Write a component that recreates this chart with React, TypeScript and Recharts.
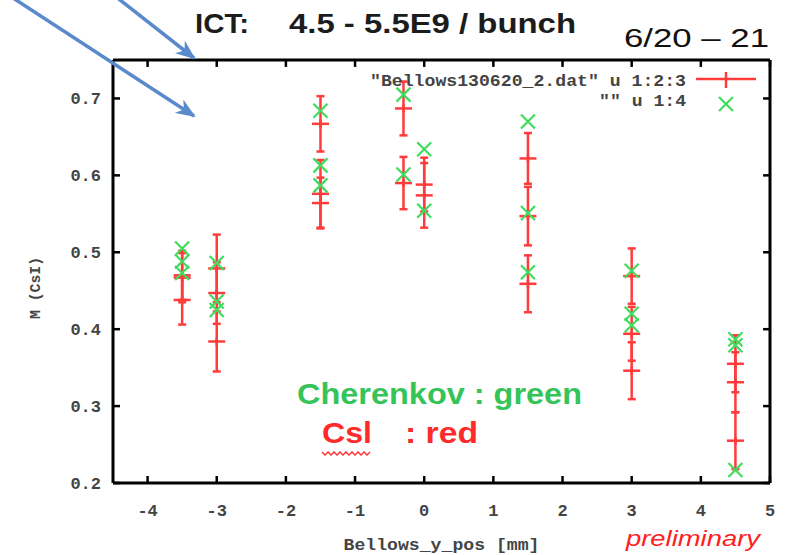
import React from "react";
import { ErrorBar, ReferenceLine, Scatter, ScatterChart, XAxis, YAxis } from "recharts";

// one entry per measurement row: x position, CsI (with error), Cherenkov
const xPositions = [
  -3.5, -3.5, -3.5, -3, -3, -3, -1.5, -1.5, -1.5, -0.3, -0.3, 0, 0, 1.5, 1.5, 1.5, 3, 3, 3, 4.5, 4.5, 4.5
];
const csiValues = [
  0.47, 0.467, 0.438, 0.479, 0.447, 0.384, 0.667, 0.576, 0.564, 0.687, 0.59, 0.588, 0.574, 0.622, 0.547,
  0.459, 0.469, 0.394, 0.346, 0.355, 0.331, 0.255
];
const csiErrors = [
  0.032, 0.032, 0.032, 0.044, 0.04, 0.039, 0.036, 0.044, 0.033, 0.035, 0.034, 0.035, 0.042, 0.033, 0.038,
  0.037, 0.036, 0.035, 0.037, 0.037, 0.039, 0.037
];
const cherenkovValues = [
  0.505, 0.488, 0.473, 0.486, 0.436, 0.425, 0.684, 0.613, 0.587, 0.705, 0.601, 0.634, 0.554, 0.67, 0.551,
  0.474, 0.476, 0.42, 0.405, 0.387, 0.379, 0.217
];
const xTicks = [-4, -3, -2, -1, 0, 1, 2, 3, 4, 5];
const yTicks = [0.2, 0.3, 0.4, 0.5, 0.6, 0.7];

const X_MIN = -4.5;
const X_MAX = 5;
const Y_MIN = 0.2;
const Y_MAX = 0.75;
// inward tick length on the mirrored (top/right) borders, in data units (~7px)
const TOP_TICK = 0.009;
const RIGHT_TICK = 0.1;

const csiPoints = xPositions.map((x, i) => ({ x, y: csiValues[i], err: csiErrors[i] }));
const cherenkovPoints = xPositions.map((x, i) => ({ x, y: cherenkovValues[i] }));

const RED = "#ff3b3b";
const GREEN = "#3fdc5e";
const FRAME = "#000";
const ARROW = "#5a8acb";
const MONO = '"Liberation Mono", "DejaVu Sans Mono", monospace';
const SANS = '"Liberation Sans Narrow", "Liberation Sans", Arial, sans-serif';
const tickStyle = { fontFamily: MONO, fontSize: 17, fontWeight: "bold", fill: "#444" };

function PlusMark(props: any) {
  const { cx, cy } = props;
  return (
    <g stroke={RED} strokeWidth={2.5}>
      <line x1={cx - 8.5} y1={cy} x2={cx + 8.5} y2={cy} />
      <line x1={cx} y1={cy - 4} x2={cx} y2={cy + 4} />
    </g>
  );
}

function CrossMark(props: any) {
  const { cx, cy } = props;
  return (
    <g stroke={GREEN} strokeWidth={2.2}>
      <line x1={cx - 7} y1={cy - 7} x2={cx + 7} y2={cy + 7} />
      <line x1={cx - 7} y1={cy + 7} x2={cx + 7} y2={cy - 7} />
    </g>
  );
}

function Overlay() {
  return (
    <svg
      width={792}
      height={555}
      style={{ position: "absolute", left: 0, top: 0, pointerEvents: "none" }}
    >
      <defs>
        <marker id="head" markerUnits="userSpaceOnUse" markerWidth={20} markerHeight={16} refX={18} refY={8} orient="auto">
          <path d="M0,0 L20,8 L0,16 L6,8 z" fill={ARROW} />
        </marker>
      </defs>
      <line x1={115} y1={-4} x2={194} y2={58} stroke={ARROW} strokeWidth={3.5} markerEnd="url(#head)" />
      <line x1={10} y1={-4} x2={194} y2={116} stroke={ARROW} strokeWidth={3.5} markerEnd="url(#head)" />

      <g fontFamily={SANS} fontWeight="bold" fontSize={27} fill="#1c1c1c">
        <text x={195} y={33} textLength={54} lengthAdjust="spacingAndGlyphs">ICT:</text>
        <text x={289} y={33} textLength={287} lengthAdjust="spacingAndGlyphs">4.5 - 5.5E9 / bunch</text>
      </g>
      <text x={624} y={47} fontFamily='"Liberation Sans", Arial, sans-serif' fontSize={26} fill="#111"
        textLength={145} lengthAdjust="spacingAndGlyphs">6/20 – 21</text>

      {/* legend */}
      <g fontFamily={MONO} fontSize={16} fontWeight="bold" fill="#444">
        <text x={686} y={86} textAnchor="end" textLength={316} lengthAdjust="spacingAndGlyphs">"Bellows130620_2.dat" u 1:2:3</text>
        <text x={686} y={106} textAnchor="end" textLength={87} lengthAdjust="spacingAndGlyphs">"" u 1:4</text>
      </g>
      <g stroke={RED} strokeWidth={2.5}>
        <line x1={696} y1={79} x2={756} y2={79} />
        <line x1={726} y1={72} x2={726} y2={88} />
      </g>
      <CrossMark cx={726} cy={104} />

      <text x={297} y={404} fontFamily={SANS} fontWeight="bold" fontSize={30} fill="#35c45a"
        textLength={285} lengthAdjust="spacingAndGlyphs">Cherenkov : green</text>
      <g fontFamily={SANS} fontWeight="bold" fontSize={30} fill="#ff2a2a">
        <text x={322} y={443} textLength={50} lengthAdjust="spacingAndGlyphs">Csl</text>
        <text x={405} y={443} textLength={73} lengthAdjust="spacingAndGlyphs">: red</text>
      </g>
      <path d="M322,452 l3,3 l3,-3 l3,3 l3,-3 l3,3 l3,-3 l3,3 l3,-3 l3,3 l3,-3 l3,3 l3,-3 l3,3 l3,-3 l3,3 l3,-3"
        fill="none" stroke="#ff2a2a" strokeWidth={1.3} />

      <text x={626} y={546} fontFamily='"Liberation Sans", Arial, sans-serif' fontStyle="italic" fontSize={22}
        fill="#ff2020" textLength={134} lengthAdjust="spacingAndGlyphs">preliminary</text>
    </svg>
  );
}

export default function App() {
  return (
    <div style={{ position: "absolute", left: 0, top: 0, width: 792, height: 555, background: "#fff", overflow: "hidden" }}>
      <ScatterChart width={792} height={555} margin={{ top: 60, right: 22, bottom: 0, left: 0 }}>
        <XAxis
          type="number"
          dataKey="x"
          domain={[X_MIN, X_MAX]}
          ticks={xTicks}
          allowDataOverflow
          height={72}
          axisLine={{ stroke: FRAME, strokeWidth: 3 }}
          tickLine={{ stroke: FRAME, strokeWidth: 2.5 }}
          tickSize={-7}
          tickMargin={28}
          tick={tickStyle}
          label={() => (
            <text x={441.5} y={550} textAnchor="middle" fontFamily={MONO} fontSize={16} fontWeight="bold" fill="#444"
              textLength={196} lengthAdjust="spacingAndGlyphs">Bellows_y_pos [mm]</text>
          )}
        />
        <YAxis
          type="number"
          dataKey="y"
          domain={[Y_MIN, Y_MAX]}
          ticks={yTicks}
          allowDataOverflow
          width={113}
          axisLine={{ stroke: FRAME, strokeWidth: 3 }}
          tickLine={{ stroke: FRAME, strokeWidth: 2.5 }}
          tickSize={-7}
          tickMargin={19}
          tick={tickStyle}
          label={() => (
            <text x={40} y={288} transform="rotate(-90 40 288)" textAnchor="middle" fontFamily={MONO} fontSize={15}
              fontWeight="bold" fill="#444" textLength={62} lengthAdjust="spacingAndGlyphs">M (CsI)</text>
          )}
        />

        {/* top and right border with inward ticks */}
        <ReferenceLine y={Y_MAX} stroke={FRAME} strokeWidth={3} />
        <ReferenceLine x={X_MAX} stroke={FRAME} strokeWidth={3} />
        {xTicks.map((t) => (
          <ReferenceLine
            key={`tt${t}`}
            segment={[{ x: t, y: Y_MAX }, { x: t, y: Y_MAX - TOP_TICK }]}
            stroke={FRAME}
            strokeWidth={2.5}
          />
        ))}
        {yTicks.map((v) => (
          <ReferenceLine
            key={`rt${v}`}
            segment={[{ x: X_MAX, y: v }, { x: X_MAX - RIGHT_TICK, y: v }]}
            stroke={FRAME}
            strokeWidth={2.5}
          />
        ))}

        <Scatter data={csiPoints} fill={RED} shape={PlusMark} isAnimationActive={false}>
          <ErrorBar dataKey="err" direction="y" width={4} stroke={RED} strokeWidth={2.5} isAnimationActive={false} />
        </Scatter>
        <Scatter data={cherenkovPoints} fill={GREEN} shape={CrossMark} isAnimationActive={false} />
      </ScatterChart>
      <Overlay />
    </div>
  );
}
